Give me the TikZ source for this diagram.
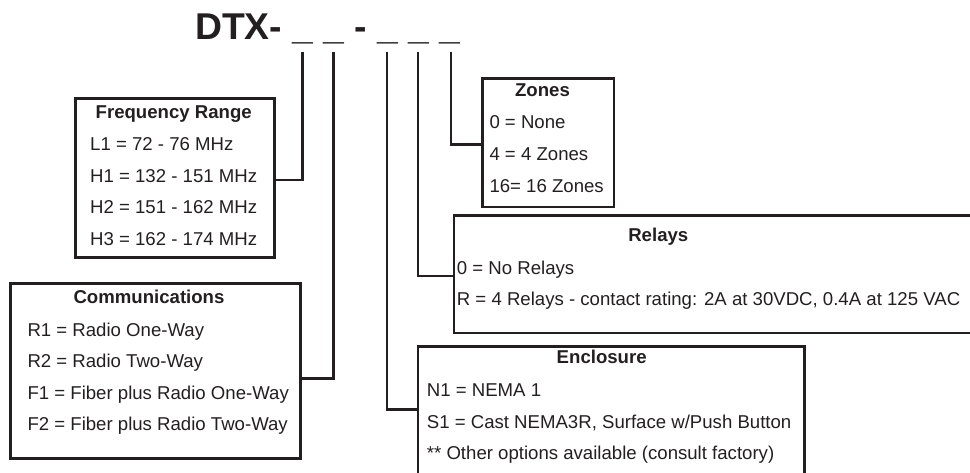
\documentclass[tikz,border=0pt]{standalone}
\usepackage{fontspec}
\usepackage{xcolor}
\setmainfont{Liberation Sans}
\definecolor{ink}{HTML}{231F20}
\tikzset{
    box/.style={draw=ink,line width=2.6pt,anchor=north west,inner sep=0pt},
    item/.style={anchor=base west,inner sep=0pt,text=ink,font=\fontsize{18.6}{22}\selectfont},
    head/.style={anchor=base,inner sep=0pt,text=ink,font=\fontsize{18.6}{22}\selectfont\bfseries},
    link/.style={draw=ink,line width=2.4pt},
}

\begin{document}
\begin{tikzpicture}[x=1pt,y=-1pt]
  \useasboundingbox (0,0) rectangle (970,473);
  \clip (0,0) rectangle (970,473);
  % Part number
  \node[anchor=base west,inner sep=0pt,text=ink,font=\fontsize{37.3}{40}\selectfont\bfseries] (title) at (195,39.3) {DTX- \_ \_ - \_ \_ \_};
  \coordinate (u1) at (302.4,51.7);
  \coordinate (u2) at (333.3,51.7);
  \coordinate (u3) at (386.8,51.7);
  \coordinate (u4) at (417.7,51.7);
  \coordinate (u5) at (450.7,51.7);
  % Option boxes
  \node[box,minimum width=199.3pt,minimum height=158.7pt] (freq) at (74.0,97.3) {};
  \node[box,minimum width=290.0pt,minimum height=175.3pt] (comms) at (9.3,282.0) {};
  \node[box,minimum width=131.4pt,minimum height=128.4pt] (zones) at (481.3,77.3) {};
  \node[box,minimum width=537.3pt,minimum height=117.7pt] (relays) at (452.7,214.0) {};
  \node[box,minimum width=386.6pt,minimum height=145.0pt] (encl) at (416.7,345.0) {};
  % Frequency range
  \node[head] (freq_h) at (173.7,119.0) {Frequency Range};
  \node[item] (freq_1) at (90.0,150.7) {L1 = 72 - 76 MHz};
  \node[item] (freq_2) at (90.0,182.2) {H1 = 132 - 151 MHz};
  \node[item] (freq_3) at (90.0,213.9) {H2 = 151 - 162 MHz};
  \node[item] (freq_4) at (90.0,245.6) {H3 = 162 - 174 MHz};
  % Communications
  \node[head] (comms_h) at (149.0,304.0) {Communications};
  \node[item] (comms_1) at (27.3,336.7) {R1 = Radio One-Way};
  \node[item] (comms_2) at (27.3,367.9) {R2 = Radio Two-Way};
  \node[item] (comms_3) at (27.3,399.3) {F1 = Fiber plus Radio One-Way};
  \node[item] (comms_4) at (27.3,430.7) {F2 = Fiber plus Radio Two-Way};
  % Zones
  \node[head] (zones_h) at (542.5,96.7) {Zones};
  \node[item] (zones_1) at (489.3,128.6) {0 = None};
  \node[item] (zones_2) at (489.3,160.7) {4 = 4 Zones};
  \node[item] (zones_3) at (489.3,192.4) {16= 16 Zones};
  % Relays
  \node[head] (relays_h) at (658.3,241.7) {Relays};
  \node[item] (relays_1) at (456.7,274.6) {0 = No Relays};
  \node[item] (relays_2) at (456.7,306.0) {R = 4 Relays - contact rating: 2A at 30VDC, 0.4A at 125 VAC};
  % Enclosure
  \node[head] (encl_h) at (601.7,363.3) {Enclosure};
  \node[item] (encl_1) at (426.7,396.0) {N1 = NEMA 1};
  \node[item] (encl_2) at (426.7,428.3) {S1 = Cast NEMA3R, Surface w/Push Button};
  \node[item] (encl_3) at (426.7,459.3) {** Other options available (consult factory)};
  % Leader lines
  \draw[link] (u1) |- ([yshift=-2.35pt]freq.east);
  \draw[link] (u2) |- ([yshift=-7.65pt]comms.east);
  \draw[link] (u3) |- ([yshift=9.2pt]encl.west);
  \draw[link] (u4) |- ([yshift=-2.15pt]relays.west);
  \draw[link] (u5) |- ([yshift=-1.8pt]zones.west);
\end{tikzpicture}
\end{document}
